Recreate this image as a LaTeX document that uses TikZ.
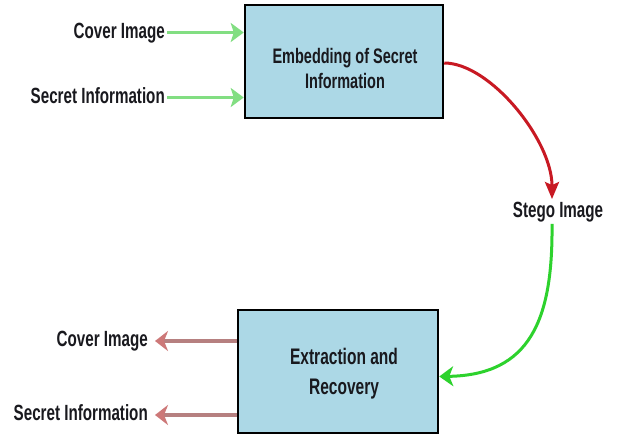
\documentclass[tikz,border=0pt]{standalone}
\usepackage{fontspec}
\setmainfont{Liberation Sans}[FakeStretch=0.69]
\usetikzlibrary{arrows.meta}
\definecolor{boxfill}{RGB}{172,216,230}
\definecolor{ingreen}{RGB}{130,222,130}
\definecolor{outbrown}{RGB}{182,128,128}
\definecolor{outtip}{RGB}{205,120,120}
\definecolor{arrowred}{RGB}{200,25,35}
\definecolor{curvegreen}{RGB}{45,210,45}
\definecolor{textcol}{RGB}{25,25,30}
\begin{document}
\begin{tikzpicture}[x=1pt,y=-1pt,
  lbl/.style={font=\fontsize{22}{26}\selectfont\bfseries, text=textcol, inner sep=2pt, text height=16pt, text depth=4.5pt},
  procbox/.style={draw=black, line width=2.5pt, fill=boxfill, inner sep=0pt},
  boxtext/.style={text=textcol, align=center, inner sep=0pt},
  inarrow/.style={draw=ingreen, line width=3.5pt, -{Stealth[width=19pt,length=13pt,inset=3pt]}},
  outarrow/.style={draw=outbrown, line width=3.5pt, -{Stealth[width=20pt,length=13pt,inset=4pt,fill=outtip,color=outtip]}},
  redarrow/.style={draw=arrowred, line width=3pt, -{Stealth[width=14pt,length=17pt,inset=3pt]}},
  grnarrow/.style={draw=curvegreen, line width=3pt, -{Stealth[width=20pt,length=14pt,inset=4pt]}}
]
\useasboundingbox[fill=white] (0,0) rectangle (617,437);

% boxes
\node[procbox, minimum width=198pt, minimum height=113pt] (embed) at (344,61.5) {};
\node[boxtext, font=\fontsize{21}{25}\selectfont\bfseries] (embedtxt) at (345,68) {Embedding of Secret\\Information};
\node[procbox, minimum width=200pt, minimum height=123pt] (extract) at (338,371.5) {};
\node[boxtext, font=\fontsize{22.5}{30}\selectfont\bfseries] (extracttxt) at (344,374) {Extraction and\\Recovery};

% input labels
\node[lbl, anchor=east] (cin) at (167,32.5) {Cover Image};
\node[lbl, anchor=east] (sin) at (167,97.5) {Secret Information};
% output labels
\node[lbl, anchor=east] (cout) at (150,341) {Cover Image};
\node[lbl, anchor=east] (sout) at (150,415) {Secret Information};
% stego
\node[lbl] (stego) at (558,211.5) {Stego Image};

% input arrows
\draw[inarrow] (cin.east) -- (cin -| embed.west);
\draw[inarrow] (sin.east) -- (sin -| embed.west);
% output arrows
\draw[outarrow] (cout -| extract.west) -- ([xshift=5pt]cout.east);
\draw[outarrow] (sout -| extract.west) -- ([xshift=5pt]sout.east);

% curved arrows
\draw[redarrow] ([yshift=-1.5pt]embed.east) .. controls (490,63) and (552,140) .. ([xshift=-6pt]stego.north);
\draw[grnarrow] ([xshift=-6pt]stego.south) .. controls (553,320) and (530,375) .. ([yshift=-5pt]extract.east);
\end{tikzpicture}
\end{document}
